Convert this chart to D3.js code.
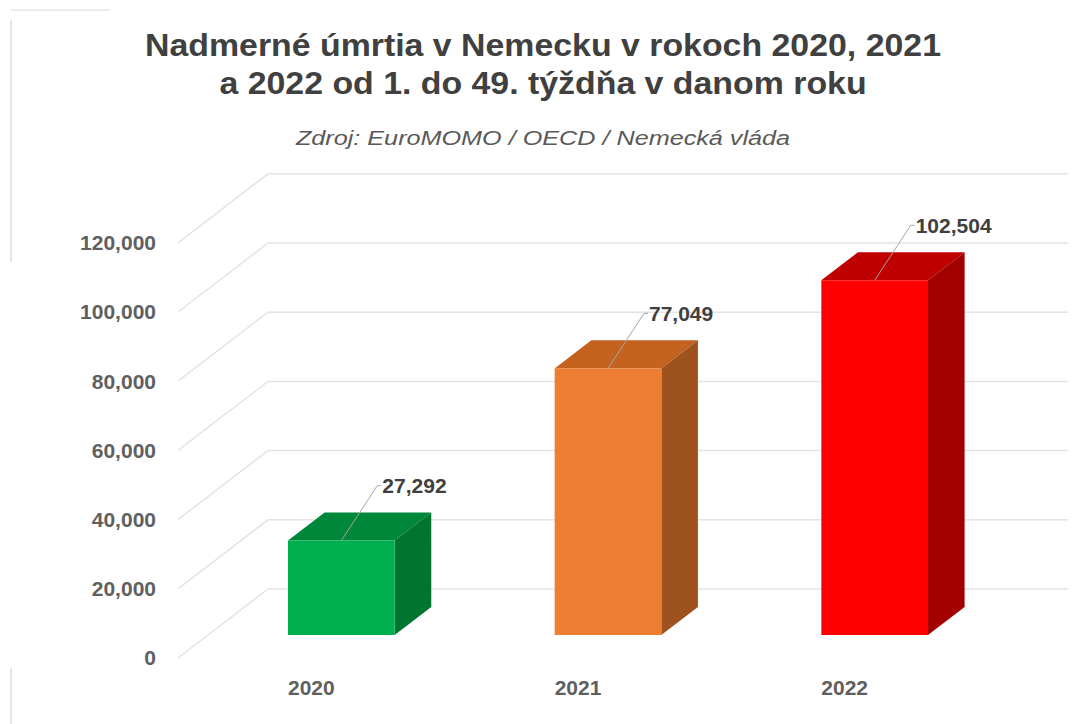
<!DOCTYPE html>
<html><head><meta charset="utf-8">
<script src="https://cdn.jsdelivr.net/npm/d3@7"></script>
<style>
html,body{margin:0;padding:0;background:#fff;}
svg{display:block;}
</style></head>
<body>
<svg id="chart" width="1078" height="724"></svg>
<script>
const titleLines = ["Nadmerné úmrtia v Nemecku v rokoch 2020, 2021", "a 2022 od 1. do 49. týždňa v danom roku"];
const subtitle = "Zdroj: EuroMOMO / OECD / Nemecká vláda";
const categories = ["2020", "2021", "2022"];
const values = [27292, 77049, 102504];
const tickValues = [0, 20000, 40000, 60000, 80000, 100000, 120000];
const palette = [
  {front: "#00B050", top: "#00873A", side: "#007530"},
  {front: "#ED7D31", top: "#C4621F", side: "#9E521E"},
  {front: "#FF0000", top: "#C00000", side: "#A30000"}
];

const svg = d3.select("#chart");
const plotLeft = 178, plotRight = 978, floorY = 658;
const depthDX = 90, depthDY = -69;
const barD1 = 1/3, barD2 = 0.74;
const font = "'Liberation Sans', Arial, sans-serif";

const y = d3.scaleLinear().domain([0, 120000]).range([0, 415.2]);
const x = d3.scaleBand().domain(categories).range([plotLeft, plotRight]).paddingInner(0.6).paddingOuter(0.3);
const fmt = d3.format(",");

const P = (px, v, d) => [px + depthDX * d, floorY - y(v) + depthDY * d];

// frame artifacts
svg.append("line").attr("x1", 11).attr("y1", 20).attr("x2", 11).attr("y2", 262).attr("stroke", "#dcdcdc").attr("stroke-width", 1.5);
svg.append("line").attr("x1", 11).attr("y1", 668).attr("x2", 11).attr("y2", 724).attr("stroke", "#dcdcdc").attr("stroke-width", 1.5);
svg.append("line").attr("x1", 11).attr("y1", 10).attr("x2", 110).attr("y2", 10).attr("stroke", "#e6e6e6").attr("stroke-width", 1.5);

// Title
svg.append("g").selectAll("text").data(titleLines).join("text")
  .attr("transform", (d, i) => `translate(543,${56 + i * 38}) scale(1.11,1)`)
  .attr("text-anchor", "middle")
  .attr("font-family", font)
  .attr("font-weight", "bold").attr("font-size", 30.5).attr("fill", "#404040")
  .text(d => d);

svg.append("text").attr("transform", "translate(543,145) scale(1.2,1)").attr("text-anchor", "middle")
  .attr("font-family", font)
  .attr("font-style", "italic").attr("font-size", 21).attr("fill", "#595959")
  .text(subtitle);

// gridlines
const grid = svg.append("g").attr("fill", "none").attr("stroke", "#e4e4e4").attr("stroke-width", 1.5);
grid.selectAll("path").data(tickValues).join("path")
  .attr("d", v => d3.line()([P(plotLeft, v, 0), P(plotLeft, v, 1), P(plotRight, v, 1)]));

// y tick labels
svg.append("g").selectAll("text").data(tickValues).join("text")
  .attr("x", 156).attr("y", v => floorY - y(v)).attr("dy", "0.35em")
  .attr("text-anchor", "end")
  .attr("font-family", font)
  .attr("font-weight", "bold").attr("font-size", 21).attr("fill", "#5f5f5f")
  .text(v => fmt(v));

// bars
const bars = svg.append("g").selectAll("g").data(categories).join("g");
bars.each(function(c, i) {
  const g = d3.select(this);
  const v = values[i];
  const x0 = x(c), x1 = x(c) + x.bandwidth();
  const col = palette[i];
  const fbl = P(x0, 0, barD1), fbr = P(x1, 0, barD1), ftl = P(x0, v, barD1), ftr = P(x1, v, barD1);
  const btl = P(x0, v, barD2), btr = P(x1, v, barD2), bbr = P(x1, 0, barD2);
  const poly = pts => "M" + pts.map(p => p.join(",")).join("L") + "Z";
  g.append("path").attr("d", poly([ftl, btl, btr, ftr])).attr("fill", col.top);
  g.append("path").attr("d", poly([ftr, btr, bbr, fbr])).attr("fill", col.side);
  g.append("path").attr("d", poly([ftl, ftr, fbr, fbl])).attr("fill", col.front);
  const ax = (x0 + x1) / 2 + depthDX * barD1, ay = floorY - y(v) + depthDY * barD1;
  g.append("path").attr("d", d3.line()([[ax, ay], [ax + 36, ay - 55], [ax + 40, ay - 55]]))
    .attr("fill", "none").attr("stroke", "#a6a6a6").attr("stroke-width", 1);
  g.append("text").attr("x", ax + 41).attr("y", ay - 55).attr("dy", "0.35em")
    .attr("font-family", font)
    .attr("font-weight", "bold").attr("font-size", 21).attr("fill", "#404040")
    .text(fmt(v));
});

// x labels
svg.append("g").selectAll("text").data(categories).join("text")
  .attr("x", c => x(c) + x.bandwidth() / 2).attr("y", 688).attr("dy", "0.35em")
  .attr("text-anchor", "middle")
  .attr("font-family", font)
  .attr("font-weight", "bold").attr("font-size", 21).attr("fill", "#5f5f5f")
  .text(c => c);
</script>
</body></html>
